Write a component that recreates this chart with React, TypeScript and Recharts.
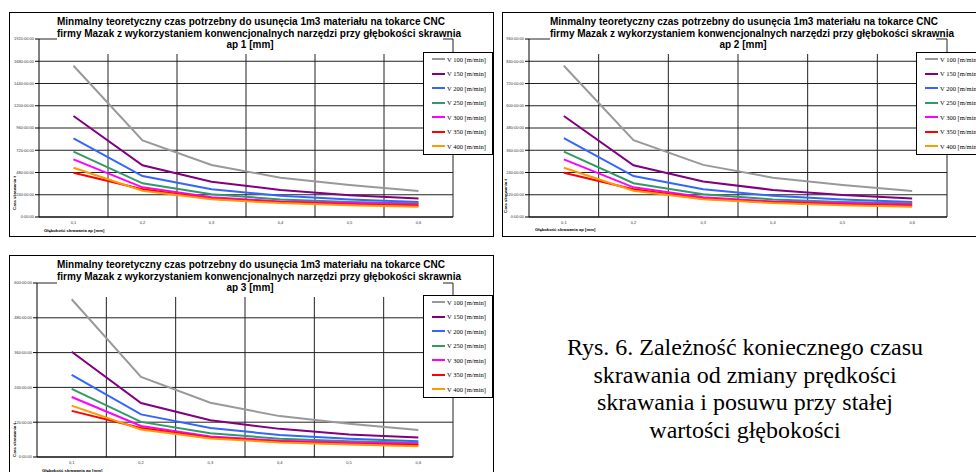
import React from 'react';
import { LineChart, Line, XAxis, YAxis, CartesianGrid } from 'recharts';

// głębokość / posuw categories on the x axis
const depths = ['0,1', '0,2', '0,3', '0,4', '0,5', '0,6'];

const speedNames = [
  'V 100 [m/min]',
  'V 150 [m/min]',
  'V 200 [m/min]',
  'V 250 [m/min]',
  'V 300 [m/min]',
  'V 350 [m/min]',
  'V 400 [m/min]',
];
const speedKeys = ['v100', 'v150', 'v200', 'v250', 'v300', 'v350', 'v400'];
const speedColors = ['#999999', '#800080', '#3366ff', '#339966', '#ff00ff', '#ff0000', '#ff9900'];

// hours, one row per speed (same order as speedKeys)
const ap1Values = [
  [1632, 827, 561, 424, 345, 280],
  [1090, 558, 381, 291, 235, 200],
  [849, 442, 299, 228, 190, 162],
  [705, 363, 245, 190, 162, 148],
  [622, 320, 212, 168, 150, 138],
  [478, 299, 197, 158, 135, 122],
  [532, 284, 191, 150, 128, 110],
];
const ap2Values = [
  [816, 414, 281, 212, 173, 140],
  [545, 279, 191, 146, 118, 100],
  [425, 221, 150, 114, 95, 81],
  [353, 182, 123, 95, 81, 74],
  [311, 160, 106, 84, 75, 69],
  [239, 150, 99, 79, 68, 61],
  [266, 142, 96, 75, 64, 55],
];
const ap3Values = [
  [544, 276, 187, 141, 115, 93],
  [363, 186, 127, 97, 78, 67],
  [283, 147, 100, 76, 63, 54],
  [235, 121, 82, 63, 54, 49],
  [207, 107, 71, 56, 50, 46],
  [159, 100, 66, 53, 45, 41],
  [177, 95, 64, 50, 43, 37],
];

const ap1Ticks = [0, 240, 480, 720, 960, 1200, 1440, 1680, 1920];
const ap2Ticks = [0, 120, 240, 360, 480, 600, 720, 840, 960];
const ap3Ticks = [0, 120, 240, 360, 480, 600];

const titleLine1 = 'Minmalny teoretyczny czas potrzebny do usunęcia 1m3 materiału na tokarce CNC';
const titleLine2 = 'firmy Mazak z wykorzystaniem konwencjonalnych narzędzi przy głębokości skrawnia';

const buildRows = (values: number[][]) =>
  depths.map((d, i) => {
    const row: any = { depth: d };
    speedKeys.forEach((k, s) => {
      row[k] = values[s][i];
    });
    return row;
  });

const hours = (v: number) => `${v}:00:00`;

// grid lines between categories (Excel style), last one closes the plot area
const betweenCategories = ({ offset }: any) =>
  depths.map((_, i) => offset.left + ((i + 1) * offset.width) / depths.length);

const sans = '"Liberation Sans", Arial, sans-serif';
const serif = '"Liberation Serif", "Times New Roman", serif';

interface PanelProps {
  left: number;
  top: number;
  width: number;
  height: number;
  ap: string;
  values: number[][];
  ticks: number[];
  yAxisWidth: number;
  marginTop: number;
  xAxisHeight: number;
  yLabelX: number;
  yLabelY: number;
  xLabelX: number;
  xLabelY: number;
}

const Panel: React.FC<PanelProps> = (p) => {
  const rows = buildRows(p.values);
  return (
    <div style={{ position: 'absolute', left: p.left, top: p.top, width: p.width, height: p.height, background: '#fff' }}>
      <LineChart
        width={p.width}
        height={p.height}
        data={rows}
        margin={{ top: p.marginTop, right: 41, left: 0, bottom: 0 }}
      >
        <CartesianGrid
          stroke="#222"
          strokeWidth={1}
          verticalCoordinatesGenerator={betweenCategories}
        />
        <XAxis
          dataKey="depth"
          scale="band"
          height={p.xAxisHeight}
          stroke="#000"
          tickLine={false}
          tickSize={0}
          tickMargin={4}
          tick={{ fontSize: 4, fill: '#333', fontFamily: sans }}
          interval={0}
        />
        <YAxis
          width={p.yAxisWidth}
          domain={[0, p.ticks[p.ticks.length - 1]]}
          ticks={p.ticks}
          interval={0}
          stroke="#000"
          tickSize={4}
          tickMargin={1}
          tickFormatter={hours}
          tick={{ fontSize: 4, fill: '#333', fontFamily: sans }}
        />
        {speedKeys.map((k, i) => (
          <Line
            key={k}
            dataKey={k}
            name={speedNames[i]}
            stroke={speedColors[i]}
            strokeWidth={2}
            dot={false}
            type="linear"
            isAnimationActive={false}
          />
        ))}
      </LineChart>

      <div
        style={{
          position: 'absolute',
          left: 48,
          top: 3,
          width: 386,
          height: 39,
          background: '#fff',
          textAlign: 'center',
          fontFamily: sans,
          fontWeight: 'bold',
          fontSize: 10,
          lineHeight: '11.5px',
          paddingTop: 1,
          boxSizing: 'border-box',
          color: '#000',
          whiteSpace: 'nowrap',
        }}
      >
        <div>{titleLine1}</div>
        <div>{titleLine2}</div>
        <div>{p.ap}</div>
      </div>

      <div
        style={{
          position: 'absolute',
          left: 414,
          top: 40,
          width: 70,
          height: 103,
          background: '#fff',
          border: '1px solid #000',
          boxSizing: 'border-box',
        }}
      >
        {speedNames.map((n, i) => (
          <div
            key={n}
            style={{ position: 'absolute', left: 8, top: 6 + i * 14.5 - 4, height: 8, display: 'flex', alignItems: 'center' }}
          >
            <div style={{ width: 13, height: 2, background: speedColors[i], marginRight: 2 }} />
            <span style={{ fontFamily: serif, fontSize: 6.5, color: '#000', whiteSpace: 'nowrap' }}>{n}</span>
          </div>
        ))}
      </div>

      <div
        style={{
          position: 'absolute',
          left: p.yLabelX - 30,
          top: p.yLabelY - 3,
          width: 60,
          height: 6,
          lineHeight: '6px',
          textAlign: 'center',
          transform: 'rotate(-90deg)',
          fontFamily: sans,
          fontWeight: 'bold',
          fontSize: 4.2,
          color: '#000',
          whiteSpace: 'nowrap',
        }}
      >
        Czas skrawania t
      </div>

      <div
        style={{
          position: 'absolute',
          left: p.xLabelX,
          top: p.xLabelY - 3,
          height: 6,
          lineHeight: '6px',
          fontFamily: sans,
          fontWeight: 'bold',
          fontSize: 4.2,
          color: '#000',
          whiteSpace: 'nowrap',
        }}
      >
        Głębokość skrawania ap [mm]
      </div>

      <div style={{ position: 'absolute', inset: 0, border: '1px solid #000', pointerEvents: 'none' }} />
    </div>
  );
};

export default function App() {
  return (
    <div style={{ position: 'fixed', left: 0, top: 0, width: 976, height: 472, overflow: 'hidden', background: '#fff' }}>
      <Panel
        left={9}
        top={12}
        width={485}
        height={225}
        ap="ap 1 [mm]"
        values={ap1Values}
        ticks={ap1Ticks}
        yAxisWidth={30}
        marginTop={27}
        xAxisHeight={20}
        yLabelX={6}
        yLabelY={181}
        xLabelX={35}
        xLabelY={219}
      />
      <Panel
        left={502}
        top={12}
        width={486}
        height={225}
        ap="ap 2 [mm]"
        values={ap2Values}
        ticks={ap2Ticks}
        yAxisWidth={27}
        marginTop={27}
        xAxisHeight={20}
        yLabelX={4}
        yLabelY={184}
        xLabelX={33}
        xLabelY={218}
      />
      <Panel
        left={9}
        top={255}
        width={485}
        height={225}
        ap="ap 3 [mm]"
        values={ap3Values}
        ticks={ap3Ticks}
        yAxisWidth={28}
        marginTop={28}
        xAxisHeight={23}
        yLabelX={6}
        yLabelY={185}
        xLabelX={33}
        xLabelY={216}
      />
      <div
        style={{
          position: 'absolute',
          left: 520,
          top: 334,
          width: 450,
          textAlign: 'center',
          fontFamily: serif,
          fontSize: 24,
          lineHeight: '27.7px',
          color: '#000',
        }}
      >
        <div>Rys. 6. Zależność koniecznego czasu</div>
        <div>skrawania od zmiany prędkości</div>
        <div>skrawania i posuwu przy stałej</div>
        <div>wartości głębokości</div>
      </div>
    </div>
  );
}
